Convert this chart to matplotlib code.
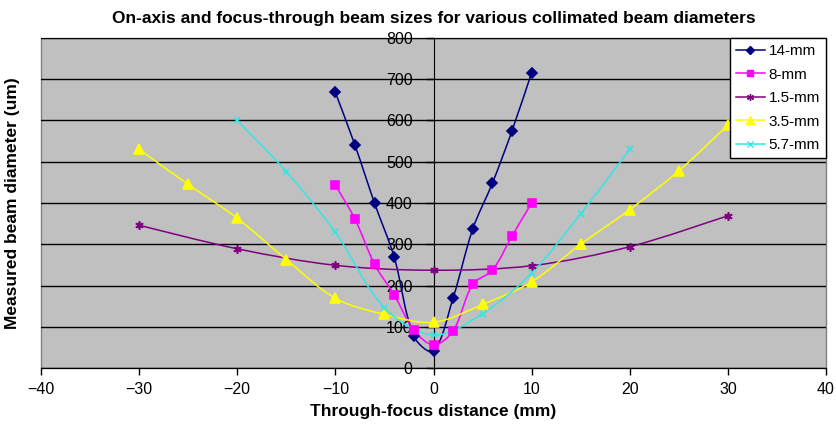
import matplotlib
matplotlib.use("Agg")
import matplotlib.pyplot as plt
from matplotlib.path import Path
from matplotlib.patches import PathPatch
from matplotlib.lines import Line2D
import numpy as np

plt.rcParams['font.family'] = ['Liberation Sans', 'DejaVu Sans']

# data
x_14 = [-10, -8, -6, -4, -2, 0, 2, 4, 6, 8, 10]
y_14 = [668, 540, 399, 268, 77, 41, 170, 337, 448, 575, 716]
x_8 = [-10, -8, -6, -4, -2, 0, 2, 4, 6, 8, 10]
y_8 = [443, 361, 251, 177, 92, 56, 90, 203, 237, 320, 400]
x_15 = [-30, -20, -10, 0, 10, 20, 30]
y_15 = [346, 289, 249, 237, 248, 294, 369]
x_35 = [-30, -25, -20, -15, -10, -5, 0, 5, 10, 15, 20, 25, 30]
y_35 = [530, 445, 363, 263, 169, 130, 111, 154, 209, 300, 384, 478, 589]
x_57 = [-20, -15, -10, -5, 0, 5, 10, 15, 20]
y_57 = [600, 476, 329, 146, 80, 132, 230, 374, 530]

labels = ['14-mm', '8-mm', '1.5-mm', '3.5-mm', '5.7-mm']
xs = [x_14, x_8, x_15, x_35, x_57]
ys = [y_14, y_8, y_15, y_35, y_57]
colors = ['#000080', '#FF00FF', '#800080', '#FFFF00', '#33E6E6']
markers = ['D', 's', (6, 2, 0), '^', 'x']
msizes = [5, 6, 6, 7, 5]

# px per data unit, used to weight the smoothing like it looks on screen
SX = 785 / 80.0
SY = 330 / 800.0


def smooth_path(x, y):
    # smoothed line like the spreadsheet does it: cubic bezier through points,
    # tangents weighted by neighbouring segment lengths (less overshoot)
    p = np.column_stack([x, y]).astype(float)
    n = len(p)
    scale = np.array([SX, SY])

    def dist(a, b):
        return np.hypot(*((a - b) * scale))

    verts = [p[0]]
    codes = [Path.MOVETO]
    for i in range(n - 1):
        p0 = p[i - 1] if i > 0 else p[i]
        p3 = p[i + 2] if i + 2 < n else p[i + 1]
        d01 = dist(p0, p[i])
        d12 = dist(p[i], p[i + 1])
        d23 = dist(p[i + 1], p3)
        f1 = d12 / (d01 + d12) / 3.0 if d01 > 0 else 1 / 6.0
        f2 = d12 / (d12 + d23) / 3.0 if d23 > 0 else 1 / 6.0
        c1 = p[i] + (p[i + 1] - p0) * f1
        c2 = p[i + 1] - (p3 - p[i]) * f2
        verts += [c1, c2, p[i + 1]]
        codes += [Path.CURVE4] * 3
    return Path(verts, codes)


fig = plt.figure(figsize=(8.36, 4.24), dpi=100)
ax = fig.add_axes([41 / 836, 1 - 368 / 424, 785 / 836, 330 / 424])
ax.set_facecolor('#C0C0C0')
ax.patch.set_edgecolor('#808080')
ax.patch.set_linewidth(1.0)

ax.set_xlim(-40, 40)
ax.set_ylim(0, 800)
ax.set_xticks(range(-40, 41, 10))
ax.set_yticks(range(0, 801, 100))
ax.yaxis.grid(True, color='black', linewidth=1.0)
ax.set_axisbelow(True)

for x, y, c, m, ms in zip(xs, ys, colors, markers, msizes):
    ax.add_patch(PathPatch(smooth_path(x, y), fill=False, edgecolor=c,
                           linewidth=1.1, zorder=3))
    ax.plot(x, y, linestyle='none', marker=m, markersize=ms, color=c,
            markeredgecolor=c, markeredgewidth=1.2, zorder=4)

ax.spines['left'].set_position(('data', 0))
ax.spines['right'].set_visible(False)
ax.spines['top'].set_visible(False)
ax.spines['left'].set_color('black')
ax.spines['bottom'].set_color('black')
ax.tick_params(axis='both', direction='out', length=5, width=1,
               labelsize=11.5, colors='black')
ax.tick_params(axis='y', pad=9, length=6)
ax.tick_params(axis='x', pad=5)

ax.set_title('On-axis and focus-through beam sizes for various collimated beam diameters',
             fontsize=12.5, fontweight='bold', pad=11)
ax.set_xlabel('Through-focus distance (mm)', fontsize=12.5, fontweight='bold', labelpad=5)
ax.set_ylabel('Measured beam diameter (um)', fontsize=12.5, fontweight='bold')
ax.yaxis.set_label_coords(-0.027, 0.5)

handles = [Line2D([0], [0], color=c, marker=m, markersize=ms - 1, linewidth=1.1,
                  markeredgecolor=c)
           for c, m, ms in zip(colors, markers, msizes)]
leg = ax.legend(handles, labels, loc='upper right', fontsize=11,
                frameon=True, fancybox=False, framealpha=1,
                edgecolor='black', borderaxespad=0, handlelength=1.9,
                labelspacing=0.62, borderpad=0.4, handletextpad=0.25)
leg.get_frame().set_linewidth(1.0)

fig.savefig('out.png', dpi=100)
